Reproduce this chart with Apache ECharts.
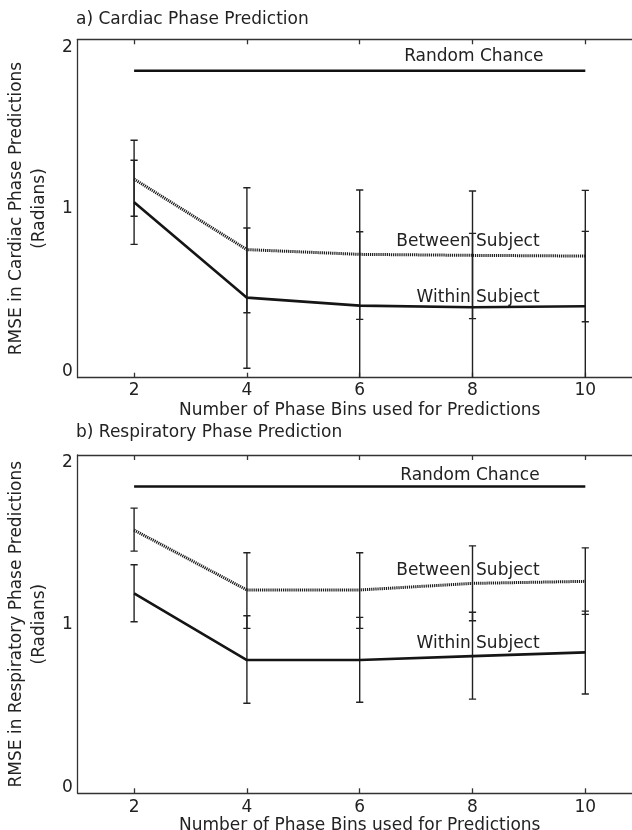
<!DOCTYPE html>
<html><head><meta charset="utf-8">
<script src="https://cdn.jsdelivr.net/npm/echarts@6/dist/echarts.min.js"></script>
<style>html,body{margin:0;padding:0;background:#fff}#c{width:632px;height:830px}</style>
</head><body><div id="c"></div>
<script>
// ---- data ----
const bins = [2, 4, 6, 8, 10];
const xTickValues = [2, 4, 6, 8, 10];
const yTickValues = [0, 1, 2];
const randomChance = 1.814;

const cardiacWithin      = [1.037, 0.473, 0.426, 0.416, 0.422];
const cardiacWithinLow   = [0.788, 0.056, -0.010, -0.020, -0.020];
const cardiacWithinHigh  = [1.285, 0.885, 0.863, 0.853, 0.865];
const cardiacBetween     = [1.174, 0.757, 0.729, 0.723, 0.719];
const cardiacBetweenLow  = [0.954, 0.384, 0.345, 0.349, 0.331];
const cardiacBetweenHigh = [1.403, 1.123, 1.109, 1.103, 1.107];

const respWithin      = [1.182, 0.788, 0.788, 0.811, 0.833];
const respWithinLow   = [1.014, 0.532, 0.538, 0.557, 0.587];
const respWithinHigh  = [1.351, 1.050, 1.040, 1.070, 1.077];
const respBetween     = [1.556, 1.202, 1.202, 1.241, 1.253];
const respBetweenLow  = [1.432, 0.975, 0.975, 1.020, 1.058];
const respBetweenHigh = [1.686, 1.422, 1.422, 1.463, 1.451];

const panelTitles = ['a) Cardiac Phase Prediction', 'b) Respiratory Phase Prediction'];
const yNames = ['RMSE in Cardiac Phase Predictions\n(Radians)', 'RMSE in Respiratory Phase Predictions\n(Radians)'];
const xName = 'Number of Phase Bins used for Predictions';
const labelTexts = ['Random Chance', 'Between Subject', 'Within Subject'];

// ---- styling / layout ----
const FONT = 'DejaVu Sans';
const FS = 17;
const TXT = '#222';
const AX = '#333';

const panels = [
  { top: 39.3, height: 338.4, titleTop: 11,
    within: cardiacWithin, wLow: cardiacWithinLow, wHigh: cardiacWithinHigh,
    between: cardiacBetween, bLow: cardiacBetweenLow, bHigh: cardiacBetweenHigh,
    labelAnchors: [[9.26, 1.897], [9.19, 0.803], [9.19, 0.472]], xLabelMargin: 4 },
  { top: 455, height: 338.3, titleTop: 424.5,
    within: respWithin, wLow: respWithinLow, wHigh: respWithinHigh,
    between: respBetween, bLow: respBetweenLow, bHigh: respBetweenHigh,
    labelAnchors: [[9.19, 1.878], [9.19, 1.317], [9.19, 0.884]], xLabelMargin: 6 }
];

const grids = [], xAxes = [], yAxes = [], series = [], titles = [];

function errRender(params, api) {
  const x = api.value(0);
  const lo = api.coord([x, api.value(1)]);
  const hi = api.coord([x, api.value(2)]);
  const cw = 3.6;
  const st = { stroke: '#222', lineWidth: 1.4 };
  return { type: 'group', children: [
    { type: 'line', shape: { x1: lo[0], y1: lo[1], x2: hi[0], y2: hi[1] }, style: st },
    { type: 'line', shape: { x1: lo[0] - cw, y1: lo[1], x2: lo[0] + cw, y2: lo[1] }, style: st },
    { type: 'line', shape: { x1: hi[0] - cw, y1: hi[1], x2: hi[0] + cw, y2: hi[1] }, style: st }
  ]};
}

function textRender(params, api) {
  const p = api.coord([api.value(0), api.value(1)]);
  return { type: 'text', x: p[0], y: p[1], style: {
    text: labelTexts[params.dataIndex], align: 'right', verticalAlign: 'middle',
    fontSize: FS, fontFamily: FONT, fill: TXT } };
}

panels.forEach((p, i) => {
  grids.push({ left: 77.7, top: p.top, width: 564, height: p.height,
    containLabel: false, outerBoundsMode: 'none' });
  titles.push({ text: panelTitles[i], left: 76, top: p.titleTop, padding: 0,
    textStyle: { fontSize: FS, fontFamily: FONT, fontWeight: 'normal', color: TXT } });
  // bottom x axis
  xAxes.push({ type: 'value', gridIndex: i, position: 'bottom', min: 1, max: 11,
    axisLine: { show: true, lineStyle: { color: AX, width: 1.3 } },
    axisTick: { show: true, inside: true, length: 5, customValues: xTickValues, lineStyle: { color: AX, width: 1.3 } },
    axisLabel: { customValues: xTickValues, margin: p.xLabelMargin, fontSize: FS, fontFamily: FONT, color: TXT },
    splitLine: { show: false },
    name: xName, nameLocation: 'middle', nameGap: 24,
    nameTextStyle: { fontSize: FS, fontFamily: FONT, color: TXT } });
  // top x axis (frame + ticks)
  xAxes.push({ type: 'value', gridIndex: i, position: 'top', min: 1, max: 11,
    axisLine: { show: true, lineStyle: { color: AX, width: 1.3 } },
    axisTick: { show: true, inside: true, length: 5, customValues: xTickValues, lineStyle: { color: AX, width: 1.3 } },
    axisLabel: { show: false }, splitLine: { show: false } });
  yAxes.push({ type: 'value', gridIndex: i, min: 0, max: 2, interval: 1,
    axisLine: { show: true, lineStyle: { color: AX, width: 1.3 } },
    axisTick: { show: false }, splitLine: { show: false },
    axisLabel: { margin: 5, fontSize: FS, fontFamily: FONT, color: TXT,
      formatter: v => v === 2 ? '{hi|2}' : v === 0 ? '{lo|0}' : '{n|' + v + '}',
      rich: {
        hi: { fontSize: FS, fontFamily: FONT, color: TXT, padding: [16, 0, 0, 0] },
        lo: { fontSize: FS, fontFamily: FONT, color: TXT, padding: [0, 0, 12, 0] },
        n: { fontSize: FS, fontFamily: FONT, color: TXT }
      } },
    name: yNames[i], nameLocation: 'middle', nameRotate: 90, nameGap: 20,
    nameTextStyle: { fontSize: FS, fontFamily: FONT, color: TXT, lineHeight: 23, align: 'center' } });

  const xi = i * 2, yi = i;
  series.push({ type: 'line', xAxisIndex: xi, yAxisIndex: yi, symbol: 'none', silent: true,
    data: [[bins[0], randomChance], [bins[bins.length - 1], randomChance]],
    lineStyle: { color: '#111', width: 2.6 } });
  series.push({ type: 'line', xAxisIndex: xi, yAxisIndex: yi, symbol: 'none', silent: true,
    data: bins.map((b, k) => [b, p.between[k]]),
    lineStyle: { color: '#1c1c1c', width: 3, type: [1.2, 0.9] } });
  series.push({ type: 'line', xAxisIndex: xi, yAxisIndex: yi, symbol: 'none', silent: true,
    data: bins.map((b, k) => [b, p.within[k]]),
    lineStyle: { color: '#151515', width: 2.6 } });
  series.push({ type: 'custom', xAxisIndex: xi, yAxisIndex: yi, clip: true, silent: true,
    renderItem: errRender,
    data: bins.map((b, k) => [b, p.wLow[k], p.wHigh[k]]).concat(bins.map((b, k) => [b, p.bLow[k], p.bHigh[k]])) });
  series.push({ type: 'custom', xAxisIndex: xi, yAxisIndex: yi, silent: true,
    renderItem: textRender, data: p.labelAnchors });
});

const chart = echarts.init(document.getElementById('c'), null, { renderer: 'canvas' });
chart.setOption({ animation: false, backgroundColor: '#fff', title: titles,
  grid: grids, xAxis: xAxes, yAxis: yAxes, series: series });
</script></body></html>
